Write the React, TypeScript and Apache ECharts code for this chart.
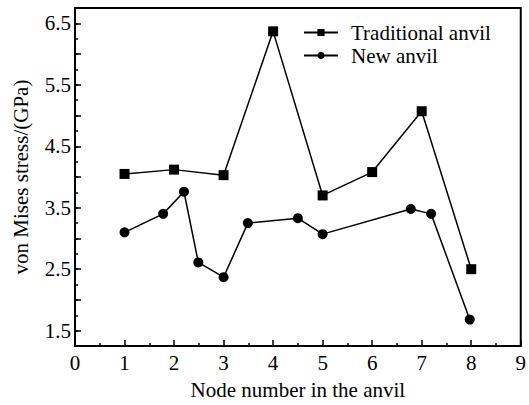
import React, { useEffect, useRef } from "react";
import * as echarts from "echarts";

const traditionalX = [1, 2, 3, 4, 5, 6, 7, 8];
const traditionalY = [4.05, 4.12, 4.03, 6.37, 3.7, 4.08, 5.07, 2.5];
const newX = [1, 1.78, 2.2, 2.49, 3, 3.49, 4.5, 5, 6.78, 7.19, 7.97];
const newY = [3.1, 3.4, 3.76, 2.61, 2.37, 3.25, 3.33, 3.07, 3.48, 3.4, 1.68];
const yLabelValues = [1.5, 2.5, 3.5, 4.5, 5.5, 6.5];
const yMajorTicks = [1.5, 2, 2.5, 3, 3.5, 4, 4.5, 5, 5.5, 6, 6.5];
const seriesNames = ["Traditional anvil", "New anvil"];
const xTitle = "Node number in the anvil";
const yTitle = "von Mises stress/(GPa)";

const FONT = "Liberation Serif";

export default function App() {
  const ref = useRef<HTMLDivElement>(null);
  useEffect(() => {
    if (!ref.current) return;
    const chart = echarts.init(ref.current, null, { renderer: "svg" });
    const textStyle = { fontFamily: FONT, color: "#000", fontSize: 21 };
    chart.setOption({
      animation: false,
      backgroundColor: "#fff",
      textStyle: { fontFamily: FONT, color: "#000" },
      grid: {
        left: 75,
        right: 7,
        top: 8,
        bottom: 53,
        show: true,
        borderColor: "#000",
        borderWidth: 2,
        containLabel: false,
      },
      legend: {
        left: 298,
        top: 17,
        orient: "vertical",
        itemWidth: 34,
        itemHeight: 9,
        itemGap: 2,
        textStyle: { ...textStyle, lineHeight: 18, padding: [0, 0, 0, 8] },
        data: seriesNames,
      },
      xAxis: {
        type: "value",
        min: 0,
        max: 9,
        interval: 1,
        name: xTitle,
        nameLocation: "middle",
        nameGap: 33,
        nameTextStyle: textStyle,
        axisLine: { lineStyle: { color: "#000", width: 2 } },
        axisTick: { inside: true, length: 6, lineStyle: { color: "#000", width: 1.5 } },
        minorTick: { show: true, splitNumber: 2, length: 3, lineStyle: { color: "#000", width: 1.5 } },
        axisLabel: { ...textStyle, margin: 6 },
        splitLine: { show: false },
      },
      yAxis: [
        {
          type: "value",
          min: 1.25,
          max: 6.75,
          interval: 0.25,
          name: yTitle,
          nameLocation: "middle",
          nameGap: 44,
          nameTextStyle: textStyle,
          axisLine: { lineStyle: { color: "#000", width: 2 } },
          axisTick: { inside: true, length: 3, lineStyle: { color: "#000", width: 1.5 } },
          axisLabel: {
            ...textStyle,
            margin: 4,
            customValues: yLabelValues,
            formatter: (v: number) => v.toFixed(1),
          },
          splitLine: { show: false },
        },
        {
          type: "value",
          min: 1.25,
          max: 6.75,
          position: "left",
          axisLine: { show: false },
          axisTick: {
            inside: true,
            length: 6,
            customValues: yMajorTicks,
            lineStyle: { color: "#000", width: 1.5 },
          },
          axisLabel: { show: false },
          splitLine: { show: false },
        },
      ],
      series: [
        {
          name: seriesNames[0],
          type: "line",
          data: traditionalX.map((x, i) => [x, traditionalY[i]]),
          symbol: "rect",
          symbolSize: 10,
          itemStyle: { color: "#000" },
          lineStyle: { color: "#000", width: 1.5 },
        },
        {
          name: seriesNames[1],
          type: "line",
          data: newX.map((x, i) => [x, newY[i]]),
          symbol: "circle",
          symbolSize: 10,
          itemStyle: { color: "#000" },
          lineStyle: { color: "#000", width: 1.5 },
        },
      ],
    });
    return () => chart.dispose();
  }, []);
  return <div ref={ref} style={{ width: 529, height: 405, position: "absolute", left: 0, top: 0 }} />;
}
